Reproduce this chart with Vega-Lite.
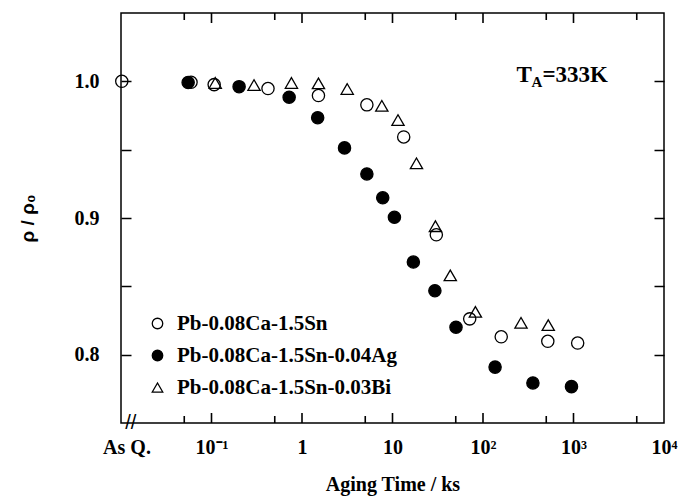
{
  "$schema": "https://vega.github.io/schema/vega-lite/v6.json",
  "width": 543,
  "height": 410,
  "autosize": "none",
  "padding": {"left": 121, "top": 13, "right": 24, "bottom": 77},
  "background": "white",
  "config": {"view": {"stroke": "black", "strokeWidth": 1.5}},
  "datasets": {
    "pts": [
      {"series": "Pb-0.08Ca-1.5Sn", "t": 0.0102, "r": 1.0},
      {"series": "Pb-0.08Ca-1.5Sn", "t": 0.0594, "r": 0.9993},
      {"series": "Pb-0.08Ca-1.5Sn", "t": 0.107, "r": 0.9976},
      {"series": "Pb-0.08Ca-1.5Sn", "t": 0.421, "r": 0.9947},
      {"series": "Pb-0.08Ca-1.5Sn", "t": 1.52, "r": 0.9896},
      {"series": "Pb-0.08Ca-1.5Sn", "t": 5.21, "r": 0.9828},
      {"series": "Pb-0.08Ca-1.5Sn", "t": 13.3, "r": 0.9593},
      {"series": "Pb-0.08Ca-1.5Sn", "t": 30.5, "r": 0.8877},
      {"series": "Pb-0.08Ca-1.5Sn", "t": 71.3, "r": 0.8262},
      {"series": "Pb-0.08Ca-1.5Sn", "t": 159, "r": 0.8131},
      {"series": "Pb-0.08Ca-1.5Sn", "t": 520, "r": 0.8098},
      {"series": "Pb-0.08Ca-1.5Sn", "t": 1112, "r": 0.8085},
      {"series": "Pb-0.08Ca-1.5Sn-0.04Ag", "t": 0.0552, "r": 0.9992},
      {"series": "Pb-0.08Ca-1.5Sn-0.04Ag", "t": 0.2018, "r": 0.9961},
      {"series": "Pb-0.08Ca-1.5Sn-0.04Ag", "t": 0.721, "r": 0.9884},
      {"series": "Pb-0.08Ca-1.5Sn-0.04Ag", "t": 1.49, "r": 0.9734},
      {"series": "Pb-0.08Ca-1.5Sn-0.04Ag", "t": 2.95, "r": 0.9513},
      {"series": "Pb-0.08Ca-1.5Sn-0.04Ag", "t": 5.21, "r": 0.9322},
      {"series": "Pb-0.08Ca-1.5Sn-0.04Ag", "t": 7.8, "r": 0.9148},
      {"series": "Pb-0.08Ca-1.5Sn-0.04Ag", "t": 10.5, "r": 0.9005},
      {"series": "Pb-0.08Ca-1.5Sn-0.04Ag", "t": 17.0, "r": 0.8678},
      {"series": "Pb-0.08Ca-1.5Sn-0.04Ag", "t": 29.4, "r": 0.8468},
      {"series": "Pb-0.08Ca-1.5Sn-0.04Ag", "t": 50.3, "r": 0.8201},
      {"series": "Pb-0.08Ca-1.5Sn-0.04Ag", "t": 136, "r": 0.7909},
      {"series": "Pb-0.08Ca-1.5Sn-0.04Ag", "t": 356, "r": 0.7793},
      {"series": "Pb-0.08Ca-1.5Sn-0.04Ag", "t": 950, "r": 0.7766},
      {"series": "Pb-0.08Ca-1.5Sn-0.03Bi", "t": 0.11, "r": 0.9988},
      {"series": "Pb-0.08Ca-1.5Sn-0.03Bi", "t": 0.295, "r": 0.9973},
      {"series": "Pb-0.08Ca-1.5Sn-0.03Bi", "t": 0.764, "r": 0.9988},
      {"series": "Pb-0.08Ca-1.5Sn-0.03Bi", "t": 1.52, "r": 0.9985},
      {"series": "Pb-0.08Ca-1.5Sn-0.03Bi", "t": 3.16, "r": 0.9944},
      {"series": "Pb-0.08Ca-1.5Sn-0.03Bi", "t": 7.62, "r": 0.9821},
      {"series": "Pb-0.08Ca-1.5Sn-0.03Bi", "t": 11.5, "r": 0.9717},
      {"series": "Pb-0.08Ca-1.5Sn-0.03Bi", "t": 18.4, "r": 0.94},
      {"series": "Pb-0.08Ca-1.5Sn-0.03Bi", "t": 29.8, "r": 0.894},
      {"series": "Pb-0.08Ca-1.5Sn-0.03Bi", "t": 43.5, "r": 0.858},
      {"series": "Pb-0.08Ca-1.5Sn-0.03Bi", "t": 82.4, "r": 0.8313},
      {"series": "Pb-0.08Ca-1.5Sn-0.03Bi", "t": 263, "r": 0.8233},
      {"series": "Pb-0.08Ca-1.5Sn-0.03Bi", "t": 526, "r": 0.8216}
    ],
    "xticks": [
      {"v": 0.05, "kind": "minor"},
      {"v": 0.1, "kind": "major"},
      {"v": 0.5, "kind": "minor"},
      {"v": 1, "kind": "major"},
      {"v": 5, "kind": "minor"},
      {"v": 10, "kind": "major"},
      {"v": 50, "kind": "minor"},
      {"v": 100, "kind": "major"},
      {"v": 500, "kind": "minor"},
      {"v": 1000, "kind": "major"},
      {"v": 5000, "kind": "minor"}
    ]
  },
  "layer": [
    {
      "data": {"name": "pts"},
      "mark": {"type": "point", "filled": true, "size": 150, "strokeWidth": 1.3, "opacity": 1},
      "encoding": {
        "x": {
          "field": "t", "type": "quantitative",
          "scale": {"type": "log", "domain": [0.01, 10000]},
          "axis": {
            "orient": "bottom",
            "values": [0.0115, 0.1, 1, 10, 100, 1000, 10000],
            "labelExpr": "datum.value < 0.02 ? 'As Q.' : datum.value == 0.1 ? '10⁻¹' : datum.value == 1 ? '1' : datum.value == 10 ? '10' : datum.value == 100 ? '10²' : datum.value == 1000 ? '10³' : '10⁴'",
            "domain": false, "grid": false, "ticks": false,
            "labelFont": "Liberation Serif", "labelFontWeight": "bold", "labelFontSize": 20, "labelColor": "black",
            "labelPadding": 14, "labelFlush": false, "labelOverlap": false, "labelBound": false,
            "title": "Aging Time / ks", "titleFont": "Liberation Serif", "titleFontWeight": "bold", "titleFontSize": 20, "titleColor": "black", "titlePadding": 17
          }
        },
        "y": {
          "field": "r", "type": "quantitative",
          "scale": {"domain": [0.75, 1.05], "nice": false, "zero": false},
          "axis": {
            "orient": "left", "offset": -10,
            "values": [0.8, 0.85, 0.9, 0.95, 1.0],
            "labelExpr": "datum.value == 0.8 || datum.value == 0.9 || datum.value == 1 ? format(datum.value, '.1f') : ''",
            "domain": false, "grid": false,
            "tickColor": "black", "tickWidth": 1.5, "tickSize": 10,
            "labelFont": "Liberation Serif", "labelFontWeight": "bold", "labelFontSize": 20, "labelColor": "black",
            "labelPadding": 22, "labelOverlap": false, "labelBound": false,
            "title": "ρ / ρ₀", "titleFont": "Liberation Sans", "titleFontWeight": "bold", "titleFontSize": 19, "titleColor": "black", "titlePadding": 37
          }
        },
        "shape": {
          "field": "series", "type": "nominal",
          "scale": {"domain": ["Pb-0.08Ca-1.5Sn", "Pb-0.08Ca-1.5Sn-0.04Ag", "Pb-0.08Ca-1.5Sn-0.03Bi"], "range": ["circle", "circle", "triangle-up"]},
          "legend": {"title": null, "orient": "none", "legendX": 26, "legendY": 300, "padding": 0,
            "labelFont": "Liberation Serif", "labelFontWeight": "bold", "labelFontSize": 21, "labelColor": "black", "labelLimit": 400,
            "symbolSize": 110, "symbolStrokeWidth": 1.3, "rowPadding": 10, "labelOffset": 9}
        },
        "fill": {
          "field": "series", "type": "nominal",
          "scale": {"domain": ["Pb-0.08Ca-1.5Sn", "Pb-0.08Ca-1.5Sn-0.04Ag", "Pb-0.08Ca-1.5Sn-0.03Bi"], "range": ["transparent", "black", "transparent"]},
          "legend": {"title": null, "orient": "none", "legendX": 26, "legendY": 300, "padding": 0,
            "labelFont": "Liberation Serif", "labelFontWeight": "bold", "labelFontSize": 21, "labelColor": "black", "labelLimit": 400,
            "symbolSize": 110, "symbolStrokeWidth": 1.3, "rowPadding": 10, "labelOffset": 9}
        },
        "stroke": {
          "field": "series", "type": "nominal",
          "scale": {"domain": ["Pb-0.08Ca-1.5Sn", "Pb-0.08Ca-1.5Sn-0.04Ag", "Pb-0.08Ca-1.5Sn-0.03Bi"], "range": ["black", "black", "black"]},
          "legend": {"title": null, "orient": "none", "legendX": 26, "legendY": 300, "padding": 0,
            "labelFont": "Liberation Serif", "labelFontWeight": "bold", "labelFontSize": 21, "labelColor": "black", "labelLimit": 400,
            "symbolSize": 110, "symbolStrokeWidth": 1.3, "rowPadding": 10, "labelOffset": 9}
        }
      }
    },
    {
      "data": {"name": "pts"},
      "mark": {"type": "point", "opacity": 0},
      "encoding": {
        "x": {"field": "t", "type": "quantitative", "axis": null},
        "y": {
          "field": "r", "type": "quantitative",
          "axis": {
            "orient": "right", "offset": -10,
            "values": [0.8, 0.85, 0.9, 0.95, 1.0],
            "labels": false, "domain": false, "grid": false, "title": null,
            "tickColor": "black", "tickWidth": 1.5, "tickSize": 10
          }
        }
      }
    },
    {
      "data": {"name": "xticks"},
      "transform": [{"filter": "datum.kind == 'major'"}],
      "mark": {"type": "point", "shape": "M0,-1L0,0", "size": 400, "filled": false, "stroke": "black", "strokeWidth": 1.6, "opacity": 1},
      "encoding": {"x": {"field": "v", "type": "quantitative", "axis": null}, "y": {"datum": 0.75, "type": "quantitative", "axis": null}}
    },
    {
      "data": {"name": "xticks"},
      "transform": [{"filter": "datum.kind == 'minor'"}],
      "mark": {"type": "point", "shape": "M0,-1L0,0", "size": 196, "filled": false, "stroke": "black", "strokeWidth": 1.6, "opacity": 1},
      "encoding": {"x": {"field": "v", "type": "quantitative", "axis": null}, "y": {"datum": 0.75, "type": "quantitative", "axis": null}}
    },
    {
      "data": {"name": "xticks"},
      "transform": [{"filter": "datum.kind == 'major'"}],
      "mark": {"type": "point", "shape": "M0,0L0,1", "size": 400, "filled": false, "stroke": "black", "strokeWidth": 1.6, "opacity": 1},
      "encoding": {"x": {"field": "v", "type": "quantitative", "axis": null}, "y": {"datum": 1.05, "type": "quantitative", "axis": null}}
    },
    {
      "data": {"name": "xticks"},
      "transform": [{"filter": "datum.kind == 'minor'"}],
      "mark": {"type": "point", "shape": "M0,0L0,1", "size": 196, "filled": false, "stroke": "black", "strokeWidth": 1.6, "opacity": 1},
      "encoding": {"x": {"field": "v", "type": "quantitative", "axis": null}, "y": {"datum": 1.05, "type": "quantitative", "axis": null}}
    },
    {
      "data": {"values": [{}]},
      "mark": {"type": "text", "text": "T", "align": "left", "baseline": "alphabetic", "font": "Liberation Serif", "fontWeight": "bold", "fontSize": 23, "color": "black"},
      "encoding": {"x": {"datum": 234, "type": "quantitative", "axis": null}, "y": {"datum": 0.9993, "type": "quantitative", "axis": null}}
    },
    {
      "data": {"values": [{}]},
      "mark": {"type": "text", "text": "A", "align": "left", "baseline": "alphabetic", "font": "Liberation Serif", "fontWeight": "bold", "fontSize": 15, "dx": 15, "dy": 5, "color": "black"},
      "encoding": {"x": {"datum": 234, "type": "quantitative", "axis": null}, "y": {"datum": 0.9993, "type": "quantitative", "axis": null}}
    },
    {
      "data": {"values": [{}]},
      "mark": {"type": "text", "text": "=333K", "align": "left", "baseline": "alphabetic", "font": "Liberation Serif", "fontWeight": "bold", "fontSize": 23, "dx": 26, "color": "black"},
      "encoding": {"x": {"datum": 234, "type": "quantitative", "axis": null}, "y": {"datum": 0.9993, "type": "quantitative", "axis": null}}
    },
    {
      "data": {"values": [{}]},
      "mark": {"type": "text", "text": "//", "align": "center", "baseline": "middle", "font": "Liberation Sans", "fontSize": 20, "color": "black"},
      "encoding": {"x": {"datum": 0.0128, "type": "quantitative", "axis": null}, "y": {"datum": 0.75, "type": "quantitative", "axis": null}}
    }
  ],
  "resolve": {"axis": {"x": "independent", "y": "independent"}}
}
